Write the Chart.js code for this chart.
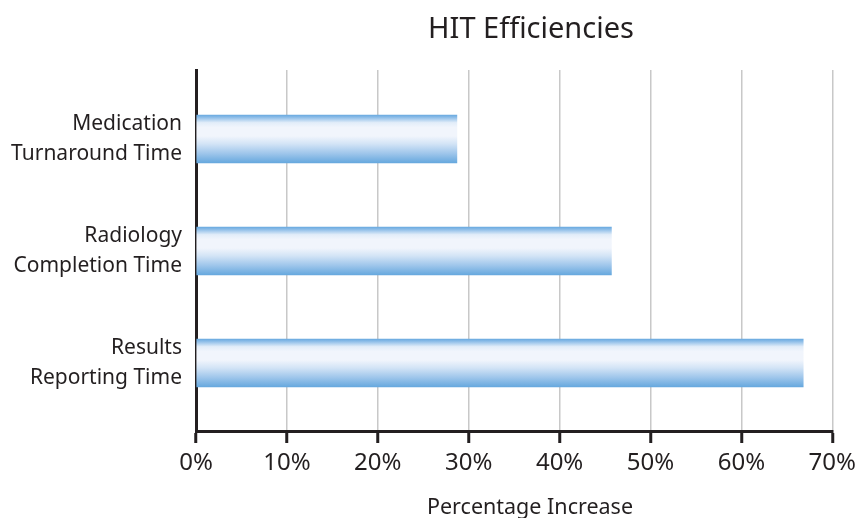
<!DOCTYPE html>
<html>
<head>
<meta charset="utf-8">
<script src="https://cdn.jsdelivr.net/npm/chart.js@4"></script>
<style>
html, body { margin: 0; padding: 0; background: #fff; }
#wrap { width: 862px; height: 518px; }
</style>
</head>
<body>
<div id="wrap"><canvas id="barChart"></canvas></div>
<script>
const categories = [
    ['Medication', 'Turnaround Time'],
    ['Radiology', 'Completion Time'],
    ['Results', 'Reporting Time'],
]
const increase = [28.7, 45.7, 66.8]
const xTicks = [0, 10, 20, 30, 40, 50, 60, 70]
const chartTitle = 'HIT Efficiencies'
const axisTitle = 'Percentage Increase'

const ink = '#231f20'
const font = 'Noto Sans'

// bar fill: blue edges, pale middle
function barFill(ctx) {
    const chart = ctx.chart
    const y = chart.scales.y
    if (!y || ctx.dataIndex === undefined) return '#6aaee0'
    const mid = y.getPixelForValue(ctx.dataIndex)
    if (!isFinite(mid)) return '#6aaee0'
    const g = chart.ctx.createLinearGradient(0, mid - 24, 0, mid + 24)
    g.addColorStop(0, '#6aaae0')
    g.addColorStop(0.05, '#8dbde8')
    g.addColorStop(0.16, '#e2edf9')
    g.addColorStop(0.26, '#f1f5fc')
    g.addColorStop(0.44, '#f1f5fc')
    g.addColorStop(0.6, '#d3e4f6')
    g.addColorStop(0.8, '#9fc6eb')
    g.addColorStop(1, '#66a8de')
    return g
}

// titles placed like the original
const titles = {
    id: 'titles',
    afterDraw(chart) {
        const c = chart.ctx
        c.save()
        c.fillStyle = ink
        c.textAlign = 'center'
        c.textBaseline = 'middle'
        c.font = '29px "' + font + '"'
        c.fillText(chartTitle, 531, 30)
        c.font = '21.5px "' + font + '"'
        c.fillText(axisTitle, 530, 508)
        c.restore()
    }
}

const bar = document.querySelector('#barChart')
new Chart(bar, {
    type: 'bar',
    data: {
        datasets: [
        {
            label: axisTitle,
            data: increase.map((v, i) => ({ x: v, y: i })),
            backgroundColor: barFill,
            borderWidth: 0,
            barThickness: 48,
        }
        ]
    },
    options: {
        indexAxis: 'y',
        responsive: true,
        maintainAspectRatio: false,
        animation: false,
        layout: { padding: { top: 70, right: 28, left: 0, bottom: 0 } },
        plugins: {
            legend: { display: false },
            tooltip: { enabled: false },
        },
        scales: {
            x: {
                type: 'linear',
                min: 0,
                max: 70,
                afterBuildTicks: s => { s.ticks = xTicks.map(v => ({ value: v })) },
                afterFit: s => { s.height = 87 },
                ticks: {
                    callback: v => v + '%',
                    color: ink,
                    font: { family: font, size: 24 },
                    padding: 6,
                    maxRotation: 0,
                },
                grid: {
                    color: '#c8c8c8',
                    lineWidth: 1.5,
                    tickColor: ink,
                    tickWidth: 3,
                    tickLength: 12,
                },
                border: { color: ink, width: 3 },
            },
            y: {
                type: 'linear',
                reverse: true,
                offset: false,
                min: -0.616,
                max: 2.607,
                afterBuildTicks: s => { s.ticks = categories.map((c, i) => ({ value: i })) },
                afterFit: s => { s.width = 196 },
                ticks: {
                    callback: v => categories[v],
                    color: ink,
                    font: { family: font, size: 21, lineHeight: 1.4 },
                    padding: 6,
                },
                grid: { display: false, offset: false },
                border: { color: ink, width: 3 },
            }
        }
    },
    plugins: [titles]
})
</script>
</body>
</html>
